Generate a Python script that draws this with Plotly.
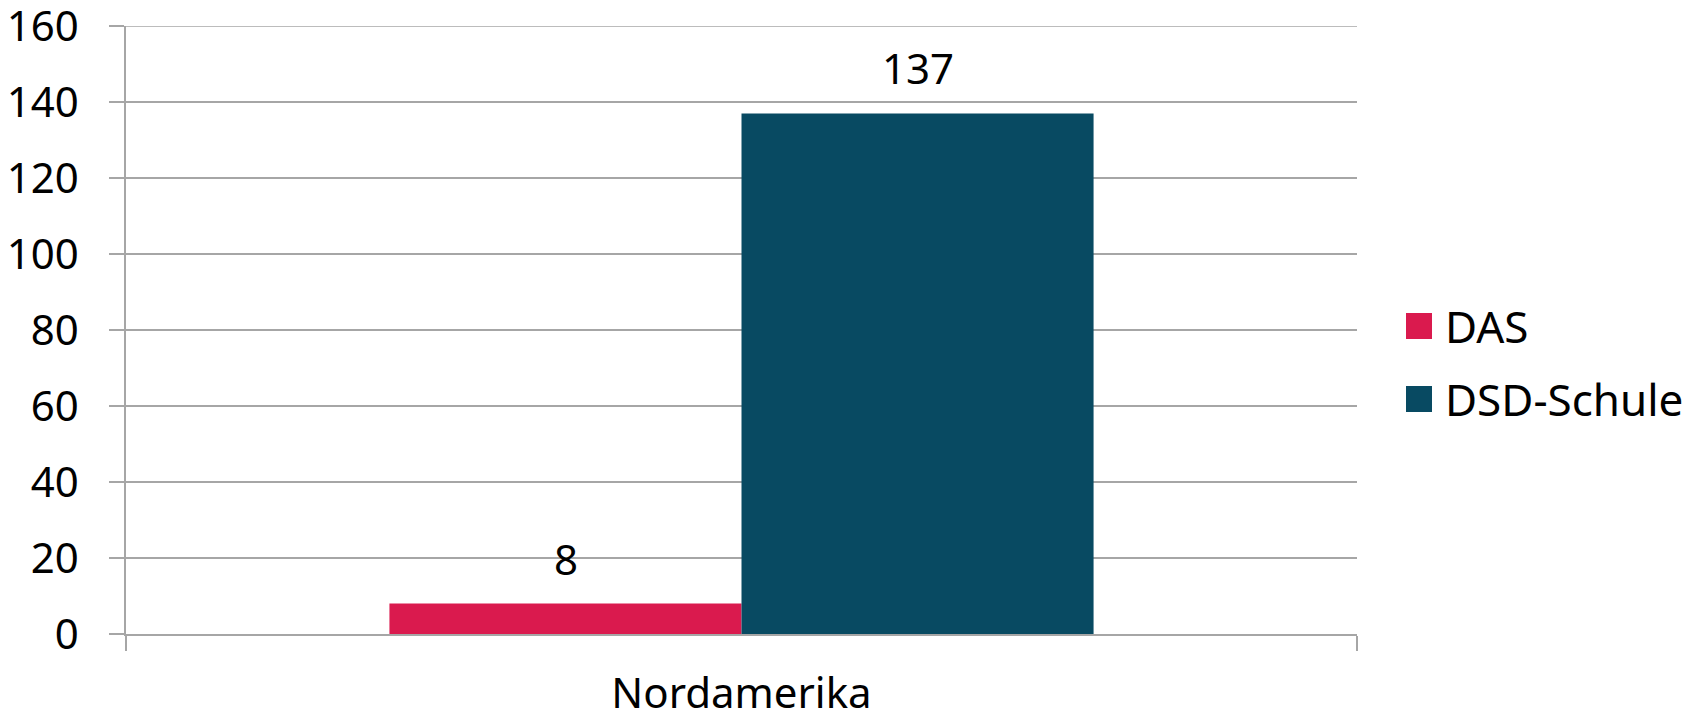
import plotly.graph_objects as go

categories = ["Nordamerika"]
series_names = ["DAS", "DSD-Schule"]
das_values = [8]
dsd_values = [137]
y_ticks = [0, 20, 40, 60, 80, 100, 120, 140, 160]

colors = {"DAS": "#DA1A4E", "DSD-Schule": "#084A62"}
font_family = "Noto Sans, Open Sans, sans-serif"
grid_color = "#A6A6A6"

# plot area size in px (page body adds an 8px offset)
plot_w, plot_h = 1231, 608

fig = go.Figure()
for name, vals in zip(series_names, [das_values, dsd_values]):
    fig.add_trace(go.Bar(
        x=categories, y=vals, name=name,
        marker=dict(color=colors[name], line=dict(width=0)),
        showlegend=False,
    ))
    # value labels above bars
    for i, v in enumerate(vals):
        fig.add_annotation(
            x=categories[i], y=v, text=str(v), showarrow=False,
            xref="x", yref="y", yanchor="bottom",
            xshift=(-176 if name == "DAS" else 176), yshift=15,
            font=dict(size=42, color="black", family=font_family),
        )

# top gridline (plotly drops the grid line sitting on the range edge)
fig.add_shape(type="line", xref="paper", yref="y",
              x0=-15 / plot_w, x1=1, y0=y_ticks[-1], y1=y_ticks[-1],
              line=dict(color=grid_color, width=1.5))

# custom legend (the library caps legend swatch size)
for i, name in enumerate(series_names):
    y0 = 1 - (313 - 26 + i * 73) / plot_h
    fig.add_shape(type="rect", xref="paper", yref="paper",
                  x0=(1406 - 126) / plot_w, x1=(1432 - 126) / plot_w,
                  y0=y0 - 26 / plot_h, y1=y0,
                  fillcolor=colors[name], line=dict(width=0))
    fig.add_annotation(x=(1443 - 126) / plot_w, y=y0 - 13 / plot_h,
                       xref="paper", yref="paper", text=name,
                       showarrow=False, xanchor="left", yanchor="middle",
                       font=dict(size=44, color="black", family=font_family))

fig.update_layout(
    width=1698, height=715,
    margin=dict(l=118, r=1698 - 118 - plot_w, t=18, b=715 - 18 - plot_h),
    plot_bgcolor="white", paper_bgcolor="white",
    barmode="group", bargap=0.428, bargroupgap=0,
    font=dict(family=font_family, size=42, color="black"),
)
fig.update_yaxes(
    range=[0, 160], tickvals=y_ticks, automargin=False,
    ticklabeloverflow="allow",
    showgrid=True, gridcolor=grid_color, gridwidth=1.5,
    zeroline=False, showline=True, linecolor=grid_color, linewidth=1.5,
    ticks="outside", ticklen=15, tickcolor=grid_color, tickwidth=1.5,
    ticklabelstandoff=22,
)
fig.update_xaxes(
    showline=True, linecolor=grid_color, linewidth=1.5, automargin=False,
    ticks="outside", tickson="boundaries", ticklen=15,
    tickcolor=grid_color, tickwidth=1.5, ticklabelstandoff=22,
)

fig.write_html("out.html")
